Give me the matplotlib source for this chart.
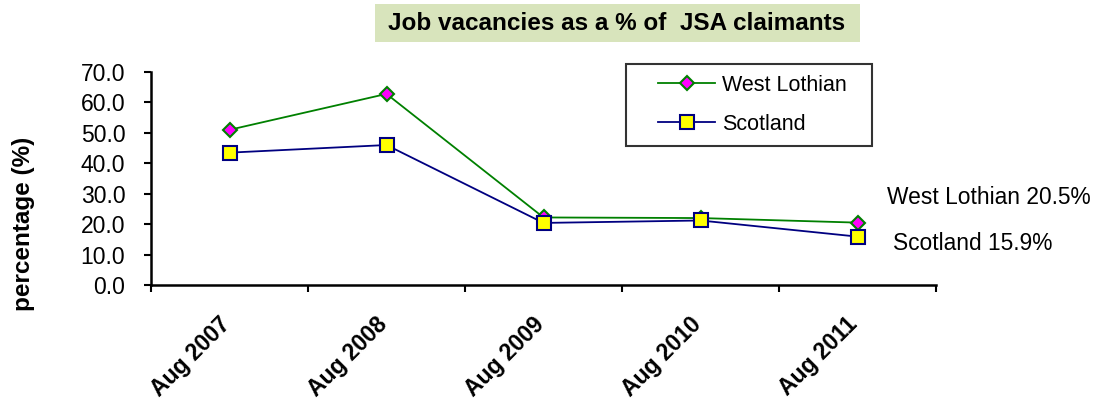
import matplotlib
matplotlib.use("Agg")
import matplotlib.pyplot as plt
from matplotlib.patches import Rectangle
from matplotlib.legend_handler import HandlerLine2D
from matplotlib.transforms import ScaledTranslation

categories = ["Aug 2007", "Aug 2008", "Aug 2009", "Aug 2010", "Aug 2011"]
west_lothian = [51.0, 62.8, 22.2, 22.0, 20.5]
scotland = [43.5, 46.0, 20.4, 21.2, 15.9]
yticks = [0, 10, 20, 30, 40, 50, 60, 70]

plt.rcParams['font.family'] = ['Liberation Sans', 'DejaVu Sans']

W, H = 1096, 409
fig = plt.figure(figsize=(W / 100, H / 100), dpi=100)
ax = fig.add_axes([151/W, 1-285/H, (936-151)/W, (285-72)/H])

x = [i + 0.5 for i in range(len(categories))]
ax.plot(x, west_lothian, color='#008000', lw=1.3, marker='D', ms=7,
        mfc='#FF00FF', mec='#008000', mew=1.5, label='West Lothian', zorder=3)
ax.plot(x, scotland, color='#000080', lw=1.3, marker='s', ms=10.5,
        mfc='#FFFF00', mec='#000080', mew=1.5, label='Scotland', zorder=3)

ax.set_xlim(0, 5)
ax.set_ylim(0, 70)
ax.set_yticks(yticks)
ax.set_yticklabels([f"{v:.1f}" for v in yticks], fontsize=16.5)
ax.set_xticks(range(6))
ax.set_xticklabels([])
ax.set_xticks(x, minor=True)
ax.set_xticklabels(categories, minor=True, rotation=45, ha='right', va='top',
                   fontsize=16.5, fontweight='bold')
ax.tick_params(axis='x', which='minor', length=0, pad=20)
ax.tick_params(axis='x', which='major', length=5, width=1.5, direction='out')
ax.tick_params(axis='y', length=5, width=1.5, direction='out', pad=13.5)
offset = ScaledTranslation(5/100, 0, fig.dpi_scale_trans)
for lab in ax.get_xticklabels(minor=True):
    lab.set_transform(lab.get_transform() + offset)
for s in ['top', 'right']:
    ax.spines[s].set_visible(False)
for s in ['left', 'bottom']:
    ax.spines[s].set_linewidth(1.8)

fig.text(24/W, 1-223.5/H, "percentage (%)", fontsize=17.5, fontweight='bold',
         rotation=90, ha='center', va='center')

fs = 15.5
x0 = (626-151)/785
y1 = (285-64)/213
y0 = (285-144)/213
leg = ax.legend(loc='upper left', bbox_to_anchor=(x0, y0, (872-626)/785, y1 - y0),
                mode='expand', fontsize=fs, frameon=True, fancybox=False,
                edgecolor='black', borderpad=0.5, labelspacing=0.84,
                handlelength=3.64, handletextpad=0.33, borderaxespad=0,
                handler_map={plt.Line2D: HandlerLine2D(xpad=0.986)})
leg.get_frame().set_linewidth(1.5)

fig.text(887/W, 1-197/H, "West Lothian 20.5%", fontsize=16.4, va='center', ha='left')
fig.text(893/W, 1-244/H, "Scotland 15.9%", fontsize=16.4, va='center', ha='left')

fig.patches.append(Rectangle((375/W, 1-42/H), (860-375)/W, 38/H,
                             transform=fig.transFigure, facecolor='#D8E4BC',
                             edgecolor='none', zorder=0))
fig.text(617/W, 1-23/H, "Job vacancies as a % of  JSA claimants", fontsize=17.5,
         fontweight='bold', ha='center', va='center')

fig.savefig("out.png", dpi=100)
